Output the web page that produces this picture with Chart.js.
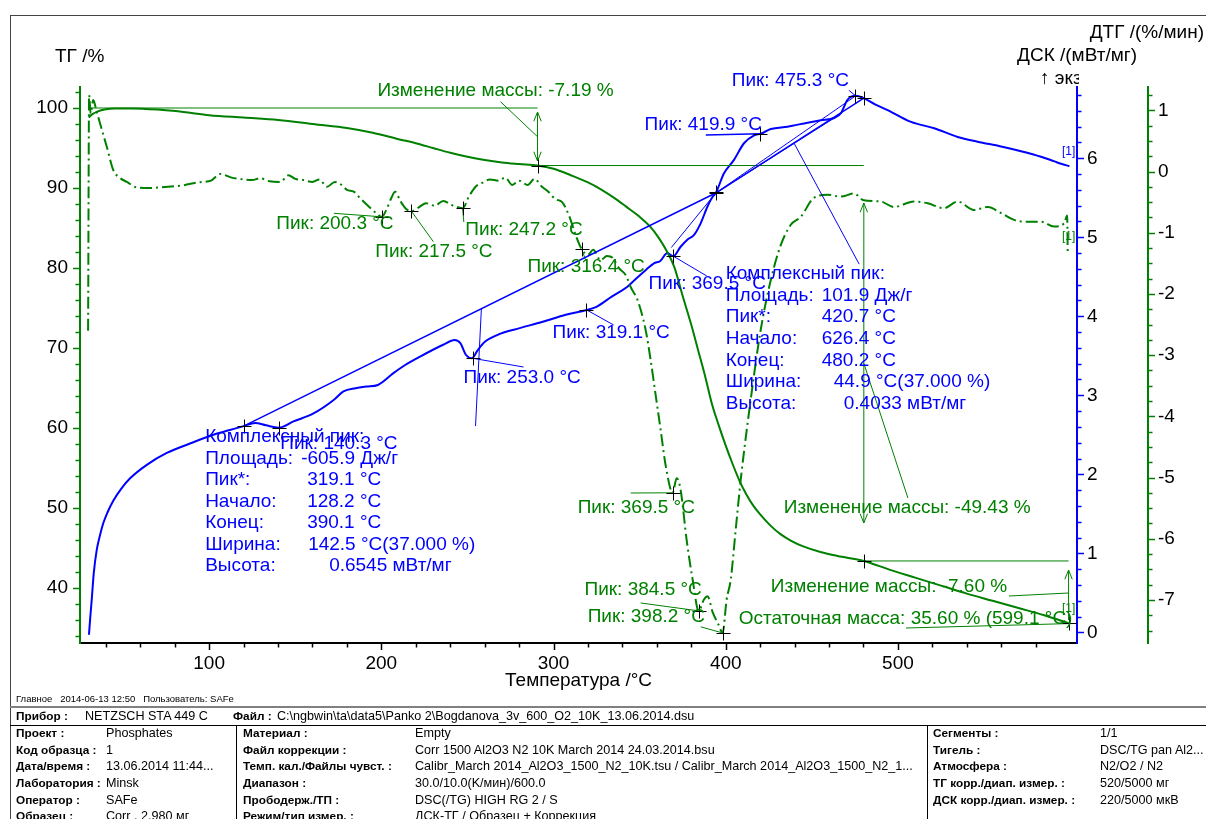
<!DOCTYPE html>
<html><head><meta charset="utf-8">
<script src="https://cdn.jsdelivr.net/npm/chart.js@4/dist/chart.umd.min.js"></script>
<style>
html,body{margin:0;padding:0;background:#fff;}
#wrap{position:relative;width:1206px;height:819px;overflow:hidden;font-family:"Liberation Sans",Arial,sans-serif;color:#000;}
#c{position:absolute;left:0;top:0;}
.hl{position:absolute;height:0;}
.vl{position:absolute;width:0;}
.t{position:absolute;white-space:nowrap;font-size:12.6px;line-height:14px;}
.b{font-weight:bold;font-size:11.8px;}
</style></head><body>
<div id="wrap">
<canvas id="c" width="1206" height="705"></canvas>
<div class="hl" style="left:10px;top:15px;width:1196px;border-top:1px solid #444;"></div>
<div class="vl" style="left:10px;top:15px;height:804px;border-left:1px solid #444;"></div>
<div class="t" style="left:16px;top:692px;font-size:9.5px;">Главное&nbsp;&nbsp; 2014-06-13 12:50&nbsp;&nbsp; Пользователь: SAFe</div>
<div class="hl" style="left:10px;top:706px;width:1196px;border-top:2px solid #808080;"></div>
<div class="t b" style="left:16px;top:709px;">Прибор :</div>
<div class="t" style="left:85px;top:709px;">NETZSCH STA 449 C</div>
<div class="t b" style="left:233px;top:709px;">Файл :</div>
<div class="t" style="left:277px;top:709px;">C:\ngbwin\ta\data5\Panko 2\Bogdanova_3v_600_O2_10K_13.06.2014.dsu</div>
<div class="hl" style="left:10px;top:725px;width:1196px;border-top:1px solid #000;"></div>
<div class="vl" style="left:236px;top:725px;height:94px;border-left:1px solid #000;"></div>
<div class="vl" style="left:927px;top:725px;height:94px;border-left:1px solid #000;"></div>
</div>
<script>
// ===== DATA =====
// TG (solid green), %  vs temperature °C
const tgT = [30,32,35,40,45,55,70,85,100,120,140,153,160,180,195,210,220,230,240,250,260,270,280,290.7,300,310,320,327,335,342,350,356,361,365,370,375,380,384,388,392,396,400,404,408,412,416,420,426,432,438,445,455,465,480.2,495,510,525,540,555,570,585,599.1];
const tgV = [98.8,99.2,99.55,99.85,99.95,99.95,99.8,99.5,99.1,98.8,98.5,98.2,98.0,97.5,96.9,96.1,95.6,95.0,94.4,93.9,93.5,93.2,93.0,92.81,92.4,91.6,90.7,89.9,88.8,87.7,86.4,85.2,83.8,82.4,80.2,76.5,72.9,69.7,66.5,63.0,60.3,57.8,55.5,53.4,51.7,50.3,49.2,47.8,46.7,45.9,45.2,44.5,44.0,43.38,42.3,41.3,40.3,39.3,38.4,37.5,36.6,35.6];
// DTG (dash-dot green), %/мин
const dtgT = [29.7,30.3,31.2,32.7,34.5,36.6,40.5,44.4,48,52.2,58,65,71.5,80,86,90.9,96,101,106.4,113,120,125,129.7,135,141.3,146,150,154.8,160,164,168.4,173,177,180,184,187.8,193,197,200.3,203,206,208,211,214,217.5,221,226,231,236,241,244,247.2,251,255,259,263,268,272,276,280,285,289,293,297,301,305,309,313,316.4,320,323,327.3,331,334.3,338,341.9,345,348.8,353.5,356.4,359.3,362.2,365.1,369.2,371.5,373.8,377.3,380.8,384.3,387.2,389.5,392.4,395.9,398.2,400.5,402.9,405.8,408.7,414.5,420.3,426.2,432,437.8,443.6,451.2,459.1,466.9,474.4,480.2,490.1,497.7,509.3,517.3,526.7,534.7,544.2,552.2,560,567.4,575.4,583.1,590.7,596.5,598.3,598.6];
const dtgV = [-2.6,1.25,0.95,1.17,1.0,0.79,0.41,0.02,-0.1,-0.17,-0.26,-0.27,-0.26,-0.24,-0.22,-0.19,-0.17,-0.15,-0.04,-0.10,-0.13,-0.14,-0.11,-0.16,-0.17,-0.06,-0.12,-0.14,-0.17,-0.13,-0.25,-0.17,-0.22,-0.30,-0.33,-0.44,-0.58,-0.68,-0.74,-0.62,-0.42,-0.33,-0.48,-0.60,-0.65,-0.60,-0.52,-0.56,-0.48,-0.55,-0.58,-0.60,-0.40,-0.24,-0.18,-0.13,-0.15,-0.10,-0.22,-0.15,-0.22,-0.12,-0.24,-0.33,-0.45,-0.50,-0.72,-1.05,-1.27,-1.36,-1.28,-1.45,-1.38,-1.41,-1.58,-1.69,-1.90,-2.10,-2.59,-3.08,-3.65,-4.22,-4.80,-5.25,-5.01,-5.20,-6.02,-6.67,-7.18,-7.00,-6.94,-7.20,-7.41,-7.54,-7.0,-6.67,-5.85,-5.04,-3.73,-2.59,-1.77,-1.2,-0.87,-0.74,-0.43,-0.38,-0.41,-0.36,-0.47,-0.49,-0.58,-0.49,-0.52,-0.60,-0.49,-0.63,-0.58,-0.68,-0.79,-0.82,-0.82,-0.90,-0.85,-0.72,-1.31];
// DSC (solid blue), мВт/мг
const dscT = [30.2,31,31.8,33,34.7,36.5,38.5,41,44.4,49,54.1,63.8,75.4,88.9,102.5,112,120,126.7,133,140.3,149,160.6,172.3,178,185,191.4,198,207,213.6,222.5,235.9,242.6,245.9,249.2,252.6,255.9,260.3,269.2,280.3,293.7,307.1,319.3,324.9,333.8,342.7,347.1,353.8,358.3,362,366.1,369.6,373.8,377.7,381.6,385.5,389.4,392.3,394.2,399,404.8,410.6,416.5,420.3,426.2,435.9,447.5,455.2,463,466.9,470.7,475.5,480.2,487,494,507.6,521.1,534.7,546.3,559.9,571.5,583.1,590.9,594.8,599.6];
const dscV = [-0.03,0.2,0.41,0.75,1.04,1.22,1.38,1.52,1.67,1.82,1.95,2.12,2.27,2.39,2.50,2.56,2.61,2.65,2.62,2.59,2.67,2.77,2.94,3.05,3.09,3.11,3.13,3.28,3.38,3.49,3.64,3.70,3.66,3.51,3.47,3.57,3.68,3.78,3.85,3.93,4.02,4.08,4.12,4.25,4.37,4.46,4.59,4.67,4.70,4.80,4.76,4.88,4.97,5.03,5.18,5.39,5.51,5.56,5.81,5.98,6.19,6.29,6.31,6.37,6.40,6.45,6.48,6.51,6.57,6.74,6.79,6.76,6.68,6.61,6.46,6.38,6.27,6.21,6.15,6.09,6.02,5.96,5.93,5.90];
// Tick values (major labels + minor marks)
function seq(a,b,s){const r=[];for(let v=a;v<=b+1e-9;v+=s)r.push(Math.round(v*1000)/1000);return r;}
const xTicks = seq(40,580,20);
const tgTicks = seq(34,102,2);
const dscTicks = seq(0,6.8,0.2);
const dtgTicks = seq(-7.5,1.25,0.25);
const isMajor = {
  x: v => Math.abs(v%100)<1e-6,
  yTG: v => Math.abs(v%10)<1e-6,
  yDSC: v => Math.abs(v-Math.round(v))<1e-6,
  yDTG: v => Math.abs(v-Math.round(v))<1e-6
};

// ===== ANNOTATIONS (in data units of the named axis) =====
const GREEN='#008000', BLUE='#0000ff';
const annLines = [
  {ax:'yTG',c:GREEN,w:1,p:[[31,100.0],[290.7,100.0]]},
  {ax:'yTG',c:GREEN,w:1,p:[[290.7,92.81],[480.2,92.81]]},
  {ax:'yTG',c:GREEN,w:1,p:[[290.7,99.5],[290.7,93.375]],a0:true,a1:true},
  {ax:'yTG',c:GREEN,w:1,p:[[269.2,100.79],[290.7,96.41]]},
  {ax:'yTG',c:GREEN,w:1,p:[[480.2,88.125],[480.2,48.125]],a0:true,a1:true},
  {ax:'yTG',c:GREEN,w:1,p:[[480.2,68.1],[505.8,51.25]]},
  {ax:'yTG',c:GREEN,w:1,p:[[480.2,43.38],[599.1,43.38]]},
  {ax:'yTG',c:GREEN,w:1,p:[[599.1,42.25],[599.1,36.0]],a0:true},
  {ax:'yTG',c:GREEN,w:1,p:[[564.5,39.0],[599.1,39.375]]},
  {ax:'yTG',c:GREEN,w:1,p:[[504.7,35.0],[599.1,35.55]]},
  {ax:'yDTG',c:GREEN,w:1,p:[[172.4,-0.683],[200.3,-0.74]]},
  {ax:'yDTG',c:GREEN,w:1,p:[[217.5,-0.65],[230.2,-1.147]]},
  {ax:'yDTG',c:GREEN,w:1,p:[[247.2,-0.60],[247.9,-0.825]]},
  {ax:'yDTG',c:GREEN,w:1,p:[[316.4,-1.27],[318.6,-1.446]]},
  {ax:'yDTG',c:GREEN,w:1,p:[[344.8,-5.253],[369.5,-5.25]]},
  {ax:'yDTG',c:GREEN,w:1,p:[[350.6,-7.05],[384.5,-7.18]]},
  {ax:'yDTG',c:GREEN,w:1,p:[[385.5,-7.44],[398.2,-7.54]]},
  {ax:'yDSC',c:BLUE,w:1.5,p:[[120,2.61],[394.2,5.56]]},
  {ax:'yDSC',c:BLUE,w:1.5,p:[[394.2,5.56],[480.2,6.76]]},
  {ax:'yDSC',c:BLUE,w:1,p:[[368.4,4.87],[394.2,5.56]]},
  {ax:'yDSC',c:BLUE,w:1,p:[[394.2,5.56],[475.5,6.79]]},
  {ax:'yDSC',c:BLUE,w:1,p:[[394.2,5.56],[466,6.55]]},
  {ax:'yDSC',c:BLUE,w:1,p:[[258.1,4.096],[254.7,2.61]]},
  {ax:'yDSC',c:BLUE,w:1,p:[[252.6,3.47],[282.6,3.358]]},
  {ax:'yDSC',c:BLUE,w:1,p:[[319.3,4.08],[334.9,3.89]]},
  {ax:'yDSC',c:BLUE,w:1,p:[[369.6,4.76],[389,4.51]]},
  {ax:'yDSC',c:BLUE,w:1.5,p:[[388.4,6.295],[420.3,6.31]]},
  {ax:'yDSC',c:BLUE,w:1,p:[[471.5,6.86],[475.5,6.79]]},
  {ax:'yDSC',c:BLUE,w:1,p:[[439.7,6.19],[477.5,4.66]]}
];
const annMarks = [
  ['yTG',290.7,92.81],['yTG',480.2,43.38],['yTG',599.1,35.6],
  ['yDTG',200.3,-0.74],['yDTG',217.5,-0.65],['yDTG',247.2,-0.60],['yDTG',316.4,-1.27],['yDTG',369.5,-5.25],['yDTG',384.5,-7.18],['yDTG',398.2,-7.54],
  ['yDSC',120,2.61],['yDSC',140.3,2.59],['yDSC',253.0,3.47],['yDSC',319.1,4.08],['yDSC',369.5,4.76],['yDSC',394.2,5.56],['yDSC',394.6,5.57],['yDSC',419.9,6.31],['yDSC',475.3,6.79],['yDSC',480.2,6.76]
];
// texts: [axis, T, value, dx, dy, text, colour, size, align]
const annTexts = [
  ['yTG',197.7,102.1,0,0,'Изменение массы: -7.19 %',GREEN],
  ['yDTG',139,-0.858,0,0,'Пик: 200.3 °C',GREEN],
  ['yDTG',196.5,-1.315,0,0,'Пик: 217.5 °C',GREEN],
  ['yDTG',248.8,-0.956,0,0,'Пик: 247.2 °C',GREEN],
  ['yDTG',284.9,-1.56,0,0,'Пик: 316.4 °C',GREEN],
  ['yDTG',314,-5.50,0,0,'Пик: 369.5 °C',GREEN],
  ['yDTG',318,-6.84,0,0,'Пик: 384.5 °C',GREEN],
  ['yDTG',319.8,-7.28,0,0,'Пик: 398.2 °C',GREEN],
  ['yTG',433.7,50.0,0,0,'Изменение массы: -49.43 %',GREEN],
  ['yTG',426.2,40.125,0,0,'Изменение массы: -7.60 %',GREEN],
  ['yTG',407.6,36.125,0,0,'Остаточная масса: 35.60 % (599.1 °C)',GREEN],
  ['yTG',599.1,37.4,0,0,'[1]',GREEN,12,'center'],
  ['yDTG',599.1,-1.07,0,0,'[1]',GREEN,12,'center'],
  ['yDSC',599.1,6.08,0,0,'[1]',BLUE,12,'center'],
  ['yDSC',403.5,6.981,0,0,'Пик: 475.3 °C',BLUE],
  ['yDSC',352.9,6.424,0,0,'Пик: 419.9 °C',BLUE],
  ['yDSC',355.2,4.409,0,0,'Пик: 369.5 °C',BLUE],
  ['yDSC',247.7,3.219,0,0,'Пик: 253.0 °C',BLUE],
  ['yDSC',299.4,3.789,0,0,'Пик: 319.1 °C',BLUE],
  ['yDSC',400,4.535,0,0,'Комплексный пик:',BLUE],
  ['yDSC',400,4.535,0,21.6,'Площадь:',BLUE],
  ['yDSC',400,4.535,96,21.6,'101.9 Дж/г',BLUE],
  ['yDSC',400,4.535,0,43.2,'Пик*:',BLUE],
  ['yDSC',400,4.535,96,43.2,'420.7 °C',BLUE],
  ['yDSC',400,4.535,0,64.8,'Начало:',BLUE],
  ['yDSC',400,4.535,96,64.8,'626.4 °C',BLUE],
  ['yDSC',400,4.535,0,86.4,'Конец:',BLUE],
  ['yDSC',400,4.535,96,86.4,'480.2 °C',BLUE],
  ['yDSC',400,4.535,0,108,'Ширина:',BLUE],
  ['yDSC',400,4.535,108,108,'44.9 °C(37.000 %)',BLUE],
  ['yDSC',400,4.535,0,129.6,'Высота:',BLUE],
  ['yDSC',400,4.535,118,129.6,'0.4033 мВт/мг',BLUE],
  ['yDSC',97.67,2.472,0,0,'Комплексный пик:',BLUE],
  ['yDSC',141.3,2.384,0,0,'Пик: 140.3 °C',BLUE],
  ['yDSC',97.67,2.472,0,21.5,'Площадь:',BLUE],
  ['yDSC',97.67,2.472,96,21.5,'-605.9 Дж/г',BLUE],
  ['yDSC',97.67,2.472,0,43,'Пик*:',BLUE],
  ['yDSC',97.67,2.472,102,43,'319.1 °C',BLUE],
  ['yDSC',97.67,2.472,0,64.5,'Начало:',BLUE],
  ['yDSC',97.67,2.472,102,64.5,'128.2 °C',BLUE],
  ['yDSC',97.67,2.472,0,86,'Конец:',BLUE],
  ['yDSC',97.67,2.472,102,86,'390.1 °C',BLUE],
  ['yDSC',97.67,2.472,0,107.5,'Ширина:',BLUE],
  ['yDSC',97.67,2.472,103,107.5,'142.5 °C(37.000 %)',BLUE],
  ['yDSC',97.67,2.472,0,129,'Высота:',BLUE],
  ['yDSC',97.67,2.472,124,129,'0.6545 мВт/мг',BLUE]
];

// ===== info table below the chart =====
const tableRows = [
  ['Проект :','Phosphates','Материал :','Empty','Сегменты :','1/1'],
  ['Код образца :','1','Файл коррекции :','Corr 1500 Al2O3  N2 10K March 2014 24.03.2014.bsu','Тигель :','DSC/TG pan Al2...'],
  ['Дата/время :','13.06.2014 11:44...','Темп. кал./Файлы чувст. :','Calibr_March 2014_Al2O3_1500_N2_10K.tsu / Calibr_March 2014_Al2O3_1500_N2_1...','Атмосфера :','N2/O2 / N2'],
  ['Лаборатория :','Minsk','Диапазон :','30.0/10.0(K/мин)/600.0','ТГ корр./диап. измер. :','520/5000 мг'],
  ['Оператор :','SAFe','Прободерж./ТП :','DSC(/TG) HIGH RG 2 / S','ДСК корр./диап. измер. :','220/5000 мкВ'],
  ['Образец :','Corr , 2.980 мг','Режим/тип измер. :','ДСК-ТГ / Образец + Коррекция','','']
];
(function(){
  const colX=[16,106,243,415,933,1100], rowY=[726,742.5,759,776,793,809];
  tableRows.forEach((r,i)=>r.forEach((txt,j)=>{
    if(!txt) return;
    const d=document.createElement('div');
    d.className='t'+(j%2===0?' b':'');
    d.style.left=colX[j]+'px'; d.style.top=rowY[i]+'px';
    d.textContent=txt; document.getElementById('wrap').appendChild(d);
  }));
})();

const FONT='"Liberation Sans", Arial, sans-serif';
function pt(chart,ax,t,v){return [chart.scales.x.getPixelForValue(t), chart.scales[ax].getPixelForValue(v)];}

const annPlugin = {
  id:'ann',
  afterDatasetsDraw(chart){
    const ctx=chart.ctx; ctx.save();
    annLines.forEach(L=>{
      const a=pt(chart,L.ax,L.p[0][0],L.p[0][1]), b=pt(chart,L.ax,L.p[1][0],L.p[1][1]);
      ctx.strokeStyle=L.c; ctx.lineWidth=L.w; ctx.beginPath(); ctx.moveTo(a[0],a[1]); ctx.lineTo(b[0],b[1]); ctx.stroke();
      const head=(tip,from)=>{const ang=Math.atan2(tip[1]-from[1],tip[0]-from[0]);const l=10,s=0.38;
        ctx.beginPath();ctx.moveTo(tip[0]-l*Math.cos(ang-s),tip[1]-l*Math.sin(ang-s));ctx.lineTo(tip[0],tip[1]);
        ctx.lineTo(tip[0]-l*Math.cos(ang+s),tip[1]-l*Math.sin(ang+s));ctx.stroke();};
      if(L.a0) head(a,b); if(L.a1) head(b,a);
    });
    ctx.strokeStyle='#000'; ctx.lineWidth=1;
    annMarks.forEach(m=>{const p=pt(chart,m[0],m[1],m[2]);const x=Math.round(p[0])+0.5,y=Math.round(p[1])+0.5;
      ctx.beginPath();ctx.moveTo(x-7,y);ctx.lineTo(x+7,y);ctx.moveTo(x,y-7);ctx.lineTo(x,y+7);ctx.stroke();});
    ctx.textBaseline='middle';
    annTexts.forEach(t=>{const p=pt(chart,t[0],t[1],t[2]);
      ctx.font=(t[7]||19)+'px '+FONT; ctx.fillStyle=t[6]; ctx.textAlign=t[8]||'left';
      ctx.fillText(t[5],p[0]+t[3],p[1]+t[4]);});
    ctx.restore();
  }
};
const axisPlugin = {
  id:'axdeco',
  afterDraw(chart){
    const ctx=chart.ctx; ctx.save();
    ['x','yTG','yDSC','yDTG'].forEach(id=>{
      const s=chart.scales[id]; ctx.strokeStyle=s.options.border.color; ctx.lineWidth=1.5;
      s.ticks.forEach(tk=>{
        const len=isMajor[id](tk.value)?7:4.5; const p=Math.round(s.getPixelForValue(tk.value))+0.5;
        ctx.beginPath();
        if(id==='x'){ctx.moveTo(p,s.top);ctx.lineTo(p,s.top+len);}
        else if(id==='yTG'){ctx.moveTo(s.right,p);ctx.lineTo(s.right-len,p);}
        else {ctx.moveTo(s.left,p);ctx.lineTo(s.left+len,p);}
        ctx.stroke();
      });
    });
    ctx.fillStyle='#000'; ctx.font='19px '+FONT; ctx.textBaseline='middle';
    ctx.textAlign='left'; ctx.fillText('ТГ /%',55,57);
    ctx.textAlign='right'; ctx.fillText('ДТГ /(%/мин)',1204,33); ctx.fillText('ДСК /(мВт/мг)',1137,56);
    ctx.save(); ctx.beginPath(); ctx.rect(1000,60,79,30); ctx.clip();
    ctx.textAlign='left'; ctx.fillText('↑ экз.',1040,79); ctx.restore();
    ctx.textAlign='center'; const ca=chart.chartArea; ctx.fillText('Температура /°C',(ca.left+ca.right)/2,681);
    ctx.restore();
  }
};

function yAxis(pos,min,max,ticks,col,width,weight,pad,major){
  return {type:'linear',position:pos,min:min,max:max,bounds:'data',weight:weight,
    afterBuildTicks:s=>{s.ticks=ticks.map(v=>({value:v}));},
    afterFit:s=>{s.width=width;},
    grid:{display:false,drawTicks:false},
    border:{display:true,color:col,width:2},
    ticks:{autoSkip:false,padding:pad,color:'#000',font:{size:19,family:FONT},
      callback:v=>major(v)?String(Math.round(v)):''}};
}

const mk=(T,V)=>T.map((t,i)=>({x:t,y:V[i]}));
new Chart(document.getElementById('c').getContext('2d'),{
  type:'line',
  data:{datasets:[
    {label:'ТГ',yAxisID:'yTG',data:mk(tgT,tgV),borderColor:GREEN,borderWidth:2,pointRadius:0,cubicInterpolationMode:'monotone',fill:false},
    {label:'ДТГ',yAxisID:'yDTG',data:mk(dtgT,dtgV),borderColor:GREEN,borderWidth:2,borderDash:[12,4,2,4],pointRadius:0,cubicInterpolationMode:'monotone',fill:false},
    {label:'ДСК',yAxisID:'yDSC',data:mk(dscT,dscV),borderColor:BLUE,borderWidth:2,pointRadius:0,cubicInterpolationMode:'monotone',fill:false}
  ]},
  options:{
    responsive:false,animation:false,devicePixelRatio:1,
    layout:{padding:{top:87,left:0,right:0,bottom:0}},
    plugins:{legend:{display:false},tooltip:{enabled:false}},
    scales:{
      x:{type:'linear',position:'bottom',min:25,max:604,bounds:'data',
        afterBuildTicks:s=>{s.ticks=xTicks.map(v=>({value:v}));},
        afterFit:s=>{s.height=62;},
        grid:{display:false,drawTicks:false},
        border:{display:true,color:'#000',width:2},
        ticks:{autoSkip:false,maxRotation:0,padding:9,color:'#000',font:{size:19,family:FONT},
          callback:v=>isMajor.x(v)?String(v):''}},
      yTG:yAxis('left',33.125,102.625,tgTicks,GREEN,80,0,12,isMajor.yTG),
      yDSC:yAxis('right',-0.135,6.902,dscTicks,BLUE,71,0,10,isMajor.yDSC),
      yDTG:yAxis('right',-7.704,1.381,dtgTicks,GREEN,58,1,10,isMajor.yDTG)
    }
  },
  plugins:[annPlugin,axisPlugin]
});
</script>
</body></html>
